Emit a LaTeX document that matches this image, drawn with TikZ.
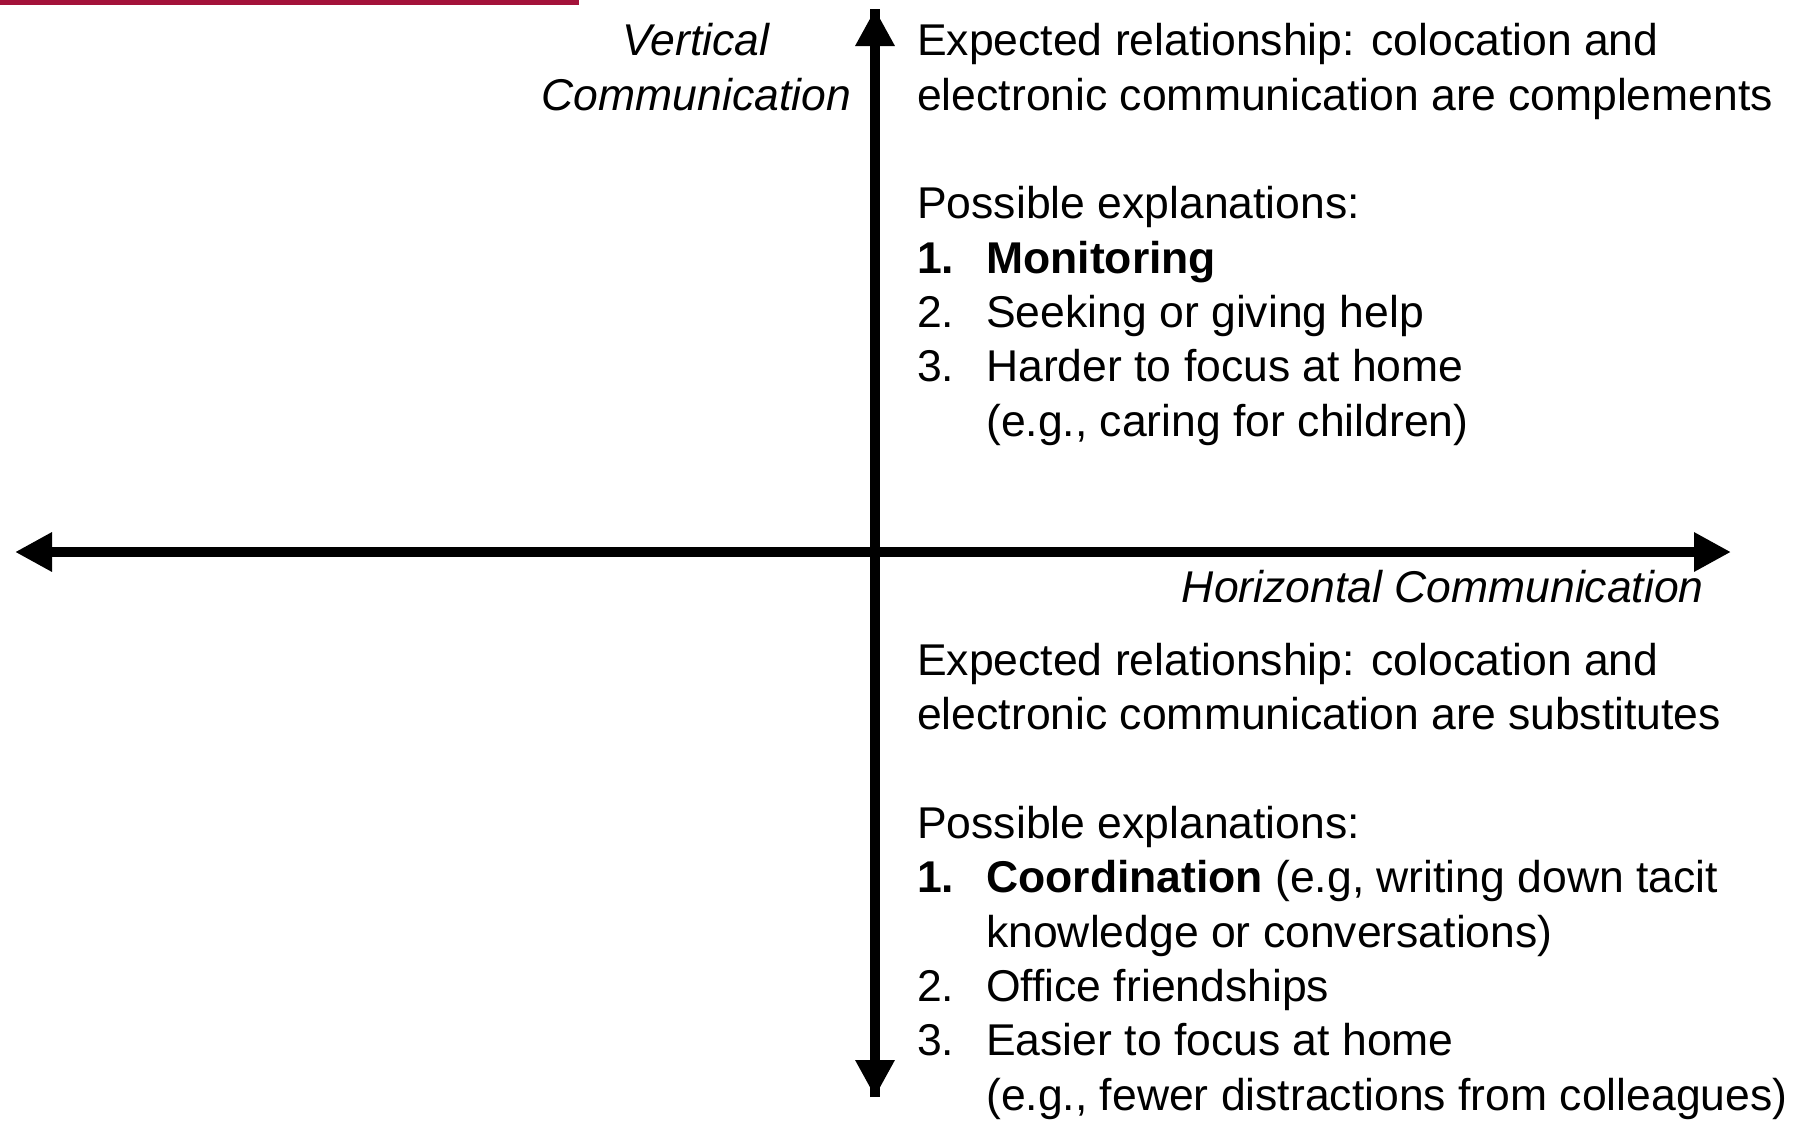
\documentclass[tikz,border=0pt]{standalone}
\usepackage{fontspec}
\setmainfont{Liberation Sans}
\usepackage{xcolor}
\definecolor{QuadRed}{HTML}{A3123A}
\usepackage{tikz}
\usetikzlibrary{arrows.meta}
\newcommand{\listnum}[1]{\makebox[69pt][l]{#1}}
\tikzset{
  quadtext/.style={inner sep=0pt,align=left,font=\fontsize{44.5}{54.3}\selectfont},
  axislabel/.style={inner sep=0pt,font=\fontsize{44.5}{54.3}\selectfont\itshape},
  axisline/.style={line width=10pt,-{Triangle[length=37pt,width=37pt]}},
  axisboth/.style={line width=10pt,{Triangle[length=37pt,width=37pt]}-{Triangle[length=37pt,width=37pt]}}
}

\begin{document}
\begin{tikzpicture}[x=1pt,y=-1pt]
  \useasboundingbox (0,0) rectangle (1798,1120);
  \fill[QuadRed] (0,0) rectangle (579,5);
  % axes
  \coordinate (west) at (15,552);
  \coordinate (east) at (1731,552);
  \coordinate (north) at (875,9);
  \coordinate (south) at (875,1097);
  \draw[axisboth] (west) -- (east);
  \draw[axisline] (south) -- (north);
  \draw[axisline] (north) -- (south);
  % axis names (base = last line)
  \node[axislabel,align=center,anchor=base east] (vlabel) at (851,110) {Vertical\\Communication};
  \node[axislabel,anchor=base east] (hlabel) at (1704,602) {Horizontal Communication};
  % upper quadrant
  \node[quadtext,anchor=base west] (upper) at (917,436) {%
    Expected relationship: colocation and\\
    electronic communication are complements\\[54.3pt]
    Possible explanations:\\
    \listnum{\textbf{1.}}\textbf{Monitoring}\\
    \listnum{2.}Seeking or giving help\\
    \listnum{3.}Harder to focus at home\\
    \listnum{}(e.g., caring for children)};
  % lower quadrant
  \node[quadtext,anchor=base west] (lower) at (917,1110) {%
    Expected relationship: colocation and\\
    electronic communication are substitutes\\[54.3pt]
    Possible explanations:\\
    \listnum{\textbf{1.}}\textbf{Coordination} (e.g, writing down tacit\\
    \listnum{}knowledge or conversations)\\
    \listnum{2.}Office friendships\\
    \listnum{3.}Easier to focus at home\\
    \listnum{}(e.g., fewer distractions from colleagues)};
\end{tikzpicture}
\end{document}
